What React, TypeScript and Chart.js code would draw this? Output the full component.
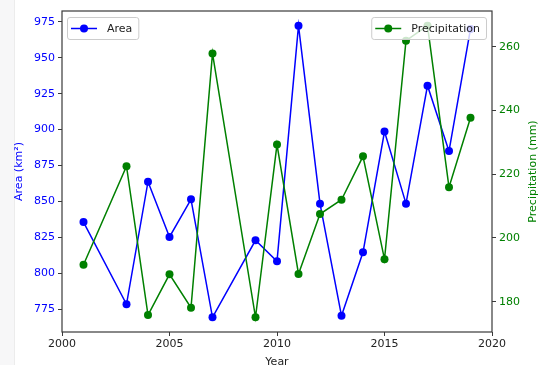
import React, { useEffect, useRef } from "react";
import { Chart, registerables } from "chart.js";

Chart.register(...registerables);

const years = [2001, 2003, 2004, 2005, 2006, 2007, 2009, 2010, 2011, 2012, 2013, 2014, 2015, 2016, 2017, 2018, 2019];
const area = [835.6, 778.3, 863.7, 825.2, 851.4, 769.2, 822.9, 808.2, 972.4, 848.4, 770.3, 814.5, 898.6, 848.4, 930.6, 885.0, 970.1];
const precipitation = [191.6, 222.5, 175.8, 188.6, 178.1, 257.9, 175.1, 229.3, 188.7, 207.5, 212.0, 225.6, 193.3, 261.9, 266.6, 215.9, 237.7];

const xTicks = [2000, 2005, 2010, 2015, 2020];
const areaTicks = [775, 800, 825, 850, 875, 900, 925, 950, 975];
const precipTicks = [180, 200, 220, 240, 260];

const FONT = "DejaVu Sans";
const BLUE = "#0000ff";
const GREEN = "#008000";

function roundRect(ctx: CanvasRenderingContext2D, x: number, y: number, w: number, h: number, r: number) {
  ctx.beginPath();
  ctx.moveTo(x + r, y);
  ctx.lineTo(x + w - r, y);
  ctx.quadraticCurveTo(x + w, y, x + w, y + r);
  ctx.lineTo(x + w, y + h - r);
  ctx.quadraticCurveTo(x + w, y + h, x + w - r, y + h);
  ctx.lineTo(x + r, y + h);
  ctx.quadraticCurveTo(x, y + h, x, y + h - r);
  ctx.lineTo(x, y + r);
  ctx.quadraticCurveTo(x, y, x + r, y);
  ctx.closePath();
}

function drawLegend(ctx: CanvasRenderingContext2D, x: number, y: number, label: string, color: string, alignRight: boolean) {
  ctx.save();
  ctx.font = `11px "${FONT}"`;
  const tw = ctx.measureText(label).width;
  const w = 40 + tw + 6;
  const h = 22;
  const bx = alignRight ? x - w : x;
  roundRect(ctx, bx + 0.5, y + 0.5, w, h, 2.5);
  ctx.fillStyle = "rgba(255,255,255,0.8)";
  ctx.fill();
  ctx.strokeStyle = "#cccccc";
  ctx.lineWidth = 1;
  ctx.stroke();
  const cy = y + h / 2 + 0.5;
  ctx.strokeStyle = color;
  ctx.lineWidth = 1.5;
  ctx.beginPath();
  ctx.moveTo(bx + 4, cy);
  ctx.lineTo(bx + 30, cy);
  ctx.stroke();
  ctx.fillStyle = color;
  ctx.beginPath();
  ctx.arc(bx + 17, cy, 4, 0, Math.PI * 2);
  ctx.fill();
  ctx.fillStyle = "#222";
  ctx.textBaseline = "middle";
  ctx.textAlign = "left";
  ctx.fillText(label, bx + 40, cy + 0.5);
  ctx.restore();
}

const decorPlugin = {
  id: "decor",
  beforeDatasetsDraw(chart: any) {
    const { ctx, chartArea } = chart;
    ctx.save();
    ctx.font = `11px "${FONT}"`;
    // left title
    ctx.fillStyle = BLUE;
    ctx.textAlign = "center";
    ctx.textBaseline = "middle";
    ctx.save();
    ctx.translate(19, (chartArea.top + chartArea.bottom) / 2);
    ctx.rotate(-Math.PI / 2);
    ctx.fillText("Area (km²)", 0, 0);
    ctx.restore();
    // right title
    ctx.fillStyle = GREEN;
    ctx.save();
    ctx.translate(533, (chartArea.top + chartArea.bottom) / 2);
    ctx.rotate(-Math.PI / 2);
    ctx.fillText("Precipitation (mm)", 0, 0);
    ctx.restore();
    // x title
    ctx.fillStyle = "#222";
    ctx.fillText("Year", (chartArea.left + chartArea.right) / 2, 362);
    ctx.restore();
  },
  afterDraw(chart: any) {
    const { ctx, chartArea } = chart;
    ctx.save();
    ctx.strokeStyle = "#3a3a3a";
    ctx.lineWidth = 1.2;
    ctx.strokeRect(chartArea.left, chartArea.top, chartArea.right - chartArea.left, chartArea.bottom - chartArea.top);
    ctx.restore();
    drawLegend(ctx, chartArea.left + 5, chartArea.top + 6, "Area", BLUE, false);
    drawLegend(ctx, chartArea.right - 6, chartArea.top + 6, "Precipitation", GREEN, true);
  },
};

export default function App() {
  const ref = useRef<HTMLCanvasElement | null>(null);

  useEffect(() => {
    if (!ref.current) return;
    const tickFont = { family: FONT, size: 11 };
    const chart = new Chart(ref.current, {
      type: "line",
      data: {
        datasets: [
          {
            label: "Precipitation",
            data: years.map((y, i) => ({ x: y, y: precipitation[i] })),
            yAxisID: "y1",
            borderColor: GREEN,
            backgroundColor: GREEN,
            pointBackgroundColor: GREEN,
            pointBorderColor: GREEN,
            borderWidth: 1.5,
            pointRadius: 4,
            pointBorderWidth: 0,
            tension: 0,
            order: 0,
          },
          {
            label: "Area",
            data: years.map((y, i) => ({ x: y, y: area[i] })),
            yAxisID: "y",
            borderColor: BLUE,
            backgroundColor: BLUE,
            pointBackgroundColor: BLUE,
            pointBorderColor: BLUE,
            borderWidth: 1.5,
            pointRadius: 4,
            pointBorderWidth: 0,
            tension: 0,
            order: 1,
          },
        ],
      },
      options: {
        responsive: false,
        animation: false,
        devicePixelRatio: 1,
        layout: { padding: { top: 11, left: 0, right: 0, bottom: 0 } },
        plugins: { legend: { display: false }, tooltip: { enabled: false }, title: { display: false } },
        scales: {
          x: {
            type: "linear",
            min: 2000,
            max: 2020,
            afterBuildTicks: (s: any) => { s.ticks = xTicks.map((v) => ({ value: v })); },
            afterFit: (s: any) => { s.height = 33; },
            ticks: { font: tickFont, color: "#222", padding: 2, maxRotation: 0, callback: (v: any) => String(v) },
            grid: { drawOnChartArea: false, drawTicks: true, tickLength: 4, color: "#3a3a3a" },
            border: { display: false },
          },
          y: {
            type: "linear",
            position: "left",
            min: 759,
            max: 982.6,
            afterBuildTicks: (s: any) => { s.ticks = areaTicks.map((v) => ({ value: v })); },
            afterFit: (s: any) => { s.width = 62; },
            ticks: { font: tickFont, color: BLUE, padding: 3, callback: (v: any) => String(v) },
            grid: { drawOnChartArea: false, drawTicks: true, tickLength: 4, color: "#3a3a3a" },
            border: { display: false },
          },
          y1: {
            type: "linear",
            position: "right",
            min: 170.5,
            max: 271.2,
            afterBuildTicks: (s: any) => { s.ticks = precipTicks.map((v) => ({ value: v })); },
            afterFit: (s: any) => { s.width = 47; },
            ticks: { font: tickFont, color: GREEN, padding: 3, callback: (v: any) => String(v) },
            grid: { drawOnChartArea: false, drawTicks: true, tickLength: 4, color: "#3a3a3a" },
            border: { display: false },
          },
        },
      },
      plugins: [decorPlugin],
    } as any);
    return () => chart.destroy();
  }, []);

  return (
    <div style={{ position: "fixed", left: 0, top: 0, width: 539, height: 365, background: "#ffffff", overflow: "hidden" }}>
      <div style={{ position: "absolute", left: 0, top: 0, width: 14, height: 365, background: "#f7f7f8", borderRight: "1px solid #ececec" }} />
      <canvas ref={ref} width={539} height={365} style={{ position: "absolute", left: 0, top: 0, width: 539, height: 365 }} />
    </div>
  );
}
